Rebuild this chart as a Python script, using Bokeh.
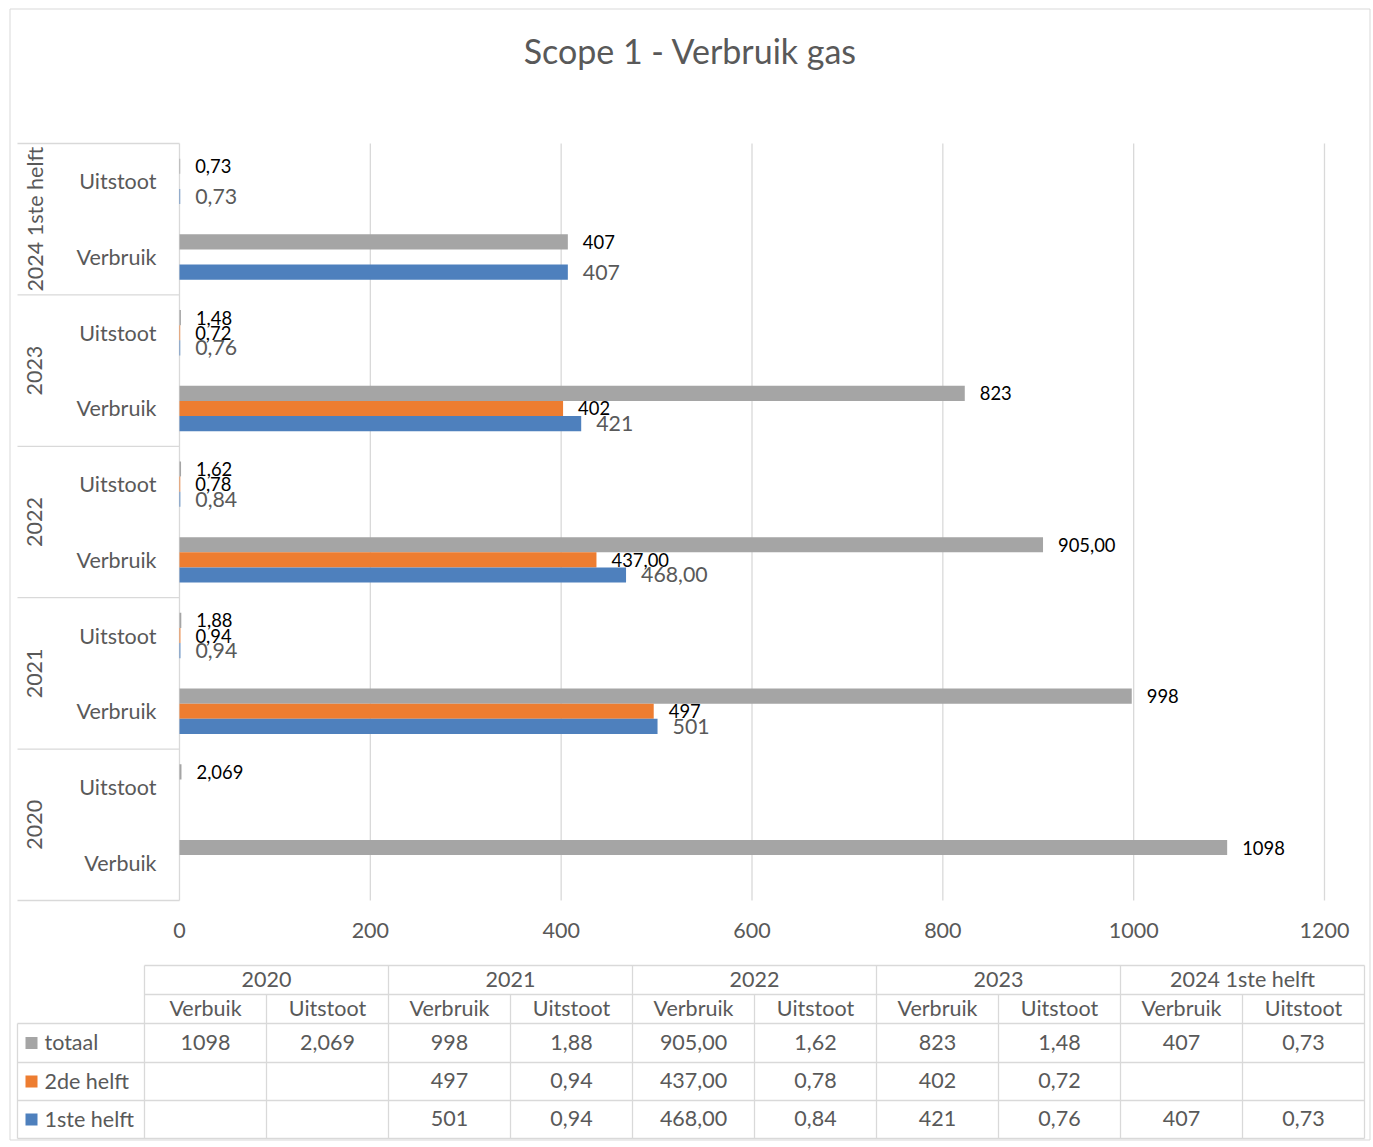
import math
from bokeh.plotting import figure
from bokeh.models import Range1d
from bokeh.core.properties import value
from bokeh.embed import file_html
from bokeh.resources import INLINE

# ---------------- data ----------------
years = ["2020", "2021", "2022", "2023", "2024 1ste helft"]
sub_labels = ["Verbuik", "Uitstoot", "Verbruik", "Uitstoot", "Verbruik", "Uitstoot",
              "Verbruik", "Uitstoot", "Verbruik", "Uitstoot"]
series_names = ["totaal", "2de helft", "1ste helft"]
totaal = [1098, 2.069, 998, 1.88, 905.00, 1.62, 823, 1.48, 407, 0.73]
tweede_helft = [None, None, 497, 0.94, 437.00, 0.78, 402, 0.72, None, None]
eerste_helft = [None, None, 501, 0.94, 468.00, 0.84, 421, 0.76, 407, 0.73]
totaal_txt = ["1098", "2,069", "998", "1,88", "905,00", "1,62", "823", "1,48", "407", "0,73"]
tweede_txt = ["", "", "497", "0,94", "437,00", "0,78", "402", "0,72", "", ""]
eerste_txt = ["", "", "501", "0,94", "468,00", "0,84", "421", "0,76", "407", "0,73"]
x_ticks = [0, 200, 400, 600, 800, 1000, 1200]
x_tick_labels = ["0", "200", "400", "600", "800", "1000", "1200"]

# ---------------- styles ----------------
FONT = value("Lato")
TXT = "#595959"
GRID = "#d9d9d9"
C_TOT, C_2DE, C_1STE = "#a5a5a5", "#ed7d31", "#4e80bd"
FS = "21.5px"

W, H = 1372, 1145
OX, OY = 0, 0
PX0, PX1200 = 179, 1324          # pixel positions of 0 and 1200
PY_BOT, PY_TOP = 900, 143         # plot area bottom / top
N = len(sub_labels)
ch = (PY_BOT - PY_TOP) / N
k = 1200 / (PX1200 - PX0)

p = figure(width=W, height=H, output_backend="svg", toolbar_location=None,
           x_range=Range1d(OX, OX + W), y_range=Range1d(OY + H, OY),
           x_axis_type=None, y_axis_type=None, min_border=0)
p.outline_line_color = None
p.background_fill_color = "white"
p.border_fill_color = "white"
p.xgrid.visible = False
p.ygrid.visible = False
p.extra_x_ranges = {"val": Range1d((OX - PX0) * k, (OX + W - PX0) * k)}
p.extra_y_ranges = {"cat": Range1d((PY_BOT - (OY + H)) / ch, (PY_BOT - OY) / ch)}

# outer border
p.quad(left=[9.5], right=[1369.5], top=[8.5], bottom=[1139.5], fill_color=None,
       line_color=GRID, line_width=1)

# title
p.text(x=[690], y=[50], text=["Scope 1 - Verbruik gas"], text_font=FONT,
       text_font_size="34px", text_color=TXT, text_align="center", text_baseline="middle")

# gridlines + axis line
p.segment(x0=x_ticks, y0=[0] * len(x_ticks), x1=x_ticks, y1=[N] * len(x_ticks),
          x_range_name="val", y_range_name="cat", line_color=GRID, line_width=1.3)

# bars
offsets = [0.2, 0.0, -0.2]
series_vals = [totaal, tweede_helft, eerste_helft]
series_txt = [totaal_txt, tweede_txt, eerste_txt]
series_cols = [C_TOT, C_2DE, C_1STE]
label_cols = ["#000000", "#000000", TXT]
label_sizes = ["18.4px", "18.4px", "21.3px"]
for vals, txts, col, off, lc, ls in zip(series_vals, series_txt, series_cols, offsets,
                                         label_cols, label_sizes):
    idx = [i for i, v in enumerate(vals) if v is not None]
    ys = [i + 0.5 + off for i in idx]
    xs = [vals[i] for i in idx]
    p.hbar(y=ys, left=0, right=xs, height=0.2, fill_color=col, line_color=None,
           x_range_name="val", y_range_name="cat")
    p.text(x=xs, y=ys, text=[txts[i] for i in idx], x_offset=15, text_font=FONT,
           text_font_size=ls, text_color=lc, text_align="left", text_baseline="middle",
           x_range_name="val", y_range_name="cat")

# x tick labels
p.text(x=x_ticks, y=[930] * len(x_ticks), text=x_tick_labels, text_font=FONT,
       text_font_size=FS, text_color=TXT, text_align="center", text_baseline="middle",
       x_range_name="val")

# y inner labels
p.text(x=[156] * N, y=[i + 0.5 for i in range(N)], text=sub_labels, text_font=FONT,
       text_font_size=FS, text_color=TXT, text_align="right", text_baseline="middle",
       y_range_name="cat")
# y group labels
p.text(x=[34] * len(years), y=[2 * g + 1 for g in range(len(years))], text=years,
       angle=math.pi / 2, text_font=FONT, text_font_size=FS, text_color=TXT,
       text_align="center", text_baseline="middle", y_range_name="cat")
# separators
seps = [2 * g for g in range(len(years) + 1)]
p.segment(x0=[17] * len(seps), y0=seps, x1=[179] * len(seps), y1=seps,
          y_range_name="cat", line_color=GRID, line_width=1.3)

# ---------------- data table ----------------
TX0, CW = 144, 122
TX1 = TX0 + CW * N
R = [965, 994, 1023, 1062, 1100, 1138]
# horizontal lines
p.segment(x0=[TX0, TX0, 17, 17, 17, 17], y0=R, x1=[TX1] * 6, y1=R,
          line_color=GRID, line_width=1.3)
# vertical lines
vx = [17] + [TX0 + CW * c for c in range(N + 1)]
vy0 = [R[2]] + [R[0] if c % 2 == 0 else R[1] for c in range(N + 1)]
p.segment(x0=vx, y0=vy0, x1=vx, y1=[R[5]] * len(vx), line_color=GRID, line_width=1.3)

# header texts
p.text(x=[TX0 + CW * (2 * g + 1) for g in range(len(years))],
       y=[(R[0] + R[1]) / 2 - 1] * len(years), text=years, text_font=FONT,
       text_font_size=FS, text_color=TXT, text_align="center", text_baseline="middle")
p.text(x=[TX0 + CW * (c + 0.5) for c in range(N)], y=[(R[1] + R[2]) / 2 - 1] * N,
       text=sub_labels, text_font=FONT, text_font_size=FS, text_color=TXT,
       text_align="center", text_baseline="middle")
for r, txts in enumerate(series_txt):
    yc = (R[2 + r] + R[3 + r]) / 2
    p.text(x=[TX0 + CW * (c + 0.5) for c in range(N)], y=[yc - 1] * N, text=txts,
           text_font=FONT, text_font_size=FS, text_color=TXT,
           text_align="center", text_baseline="middle")
    p.rect(x=[31], y=[yc], width=12, height=12, fill_color=series_cols[r], line_color=None)
    p.text(x=[44], y=[yc - 1], text=[series_names[r]], text_font=FONT, text_font_size=FS,
           text_color=TXT, text_align="left", text_baseline="middle")

open("out.html", "w").write(file_html(p, INLINE))
